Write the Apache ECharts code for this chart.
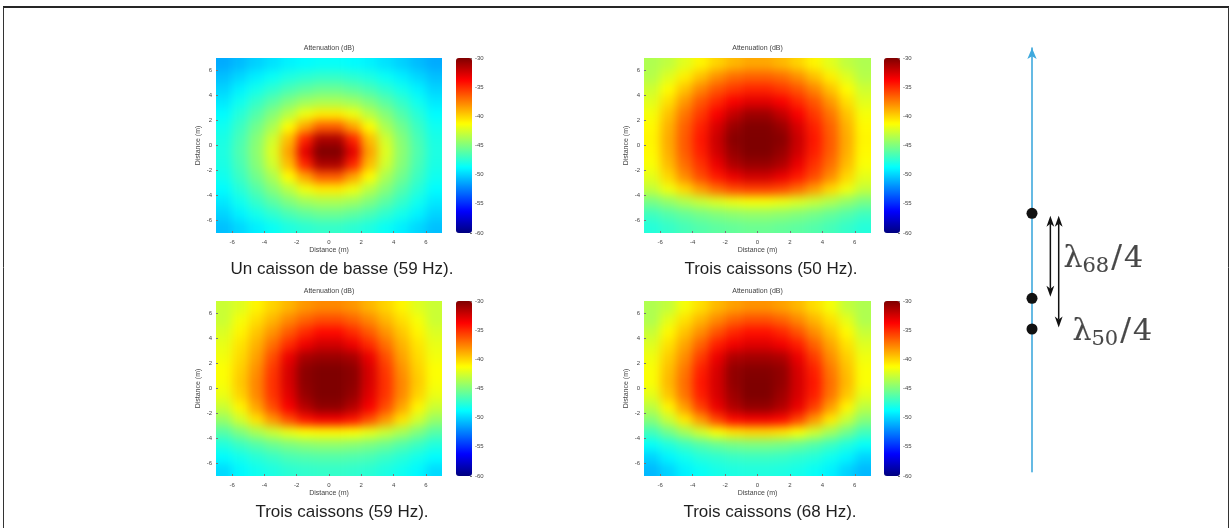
<!DOCTYPE html>
<html>
<head>
<meta charset="utf-8">
<title>Atténuation – caissons de basse</title>
<script src="https://cdn.jsdelivr.net/npm/echarts@6.0.0/dist/echarts.min.js"></script>
<style>
  html, body { margin: 0; padding: 0; background: #ffffff; }
  #stage { position: relative; width: 1232px; height: 528px; overflow: hidden; }
  .clip { position: absolute; overflow: hidden; }
  .heat { position: absolute; filter: blur(5px); }
  #main { position: absolute; left: 0; top: 0; width: 1232px; height: 528px; }
</style>
</head>
<body>
<div id="stage"><div id="main"></div></div>
<script>
// ---- cell centres of the measurement grid (m) ----
const cellX = [-6.5, -5.5, -4.5, -3.5, -2.5, -1.5, -0.5, 0.5, 1.5, 2.5, 3.5, 4.5, 5.5, 6.5];
const cellY = [6.5, 5.5, 4.5, 3.5, 2.5, 1.5, 0.5, -0.5, -1.5, -2.5, -3.5, -4.5, -5.5, -6.5];

// ---- axis ticks ----
const distanceTicks = [-6, -4, -2, 0, 2, 4, 6];
const attenuationRange = [-60, -30];

// ---- captions ----
const captions = [
  'Un caisson de basse (59 Hz).',
  'Trois caissons (50 Hz).',
  'Trois caissons (59 Hz).',
  'Trois caissons (68 Hz).'
];
const plotTitle = 'Attenuation (dB)';
const axisName = 'Distance (m)';

// ---- attenuation maps (dB), rows from y = 6.5 down to y = -6.5 ----
const attenOne59 = [
  [-51.2,-50.7,-50.1,-49.6,-49.1,-48.8,-48.6,-48.6,-48.8,-49.1,-49.6,-50.1,-50.7,-51.2],
  [-50.6,-49.9,-49.2,-48.5,-47.9,-47.5,-47.2,-47.2,-47.5,-47.9,-48.5,-49.2,-49.9,-50.6],
  [-50.0,-49.1,-48.2,-47.4,-46.6,-46.0,-45.6,-45.6,-46.0,-46.6,-47.4,-48.2,-49.1,-50.0],
  [-49.4,-48.3,-47.2,-46.1,-45.0,-44.1,-43.7,-43.7,-44.1,-45.0,-46.1,-47.2,-48.3,-49.4],
  [-48.8,-47.6,-46.3,-44.8,-43.3,-41.7,-40.7,-40.7,-41.7,-43.3,-44.8,-46.3,-47.6,-48.8],
  [-48.3,-47.0,-45.4,-43.7,-41.2,-38.6,-36.5,-36.5,-38.6,-41.2,-43.7,-45.4,-47.0,-48.3],
  [-48.0,-46.6,-44.8,-42.6,-39.3,-34.8,-31.3,-31.3,-34.8,-39.3,-42.6,-44.8,-46.6,-48.0],
  [-47.9,-46.4,-44.6,-42.2,-38.5,-33.0,-29.5,-29.5,-33.0,-38.5,-42.2,-44.6,-46.4,-47.9],
  [-48.0,-46.6,-44.8,-42.6,-39.3,-34.8,-31.3,-31.3,-34.8,-39.3,-42.6,-44.8,-46.6,-48.0],
  [-48.3,-47.0,-45.4,-43.7,-41.2,-38.6,-36.5,-36.5,-38.6,-41.2,-43.7,-45.4,-47.0,-48.3],
  [-48.8,-47.6,-46.3,-44.8,-43.3,-41.7,-40.7,-40.7,-41.7,-43.3,-44.8,-46.3,-47.6,-48.8],
  [-49.4,-48.3,-47.2,-46.1,-45.0,-44.1,-43.7,-43.7,-44.1,-45.0,-46.1,-47.2,-48.3,-49.4],
  [-50.0,-49.1,-48.2,-47.4,-46.6,-46.0,-45.6,-45.6,-46.0,-46.6,-47.4,-48.2,-49.1,-50.0],
  [-50.6,-49.9,-49.2,-48.5,-47.9,-47.5,-47.2,-47.2,-47.5,-47.9,-48.5,-49.2,-49.9,-50.6]
];

const attenThree50 = [
  [-43.6,-43.1,-42.1,-41.0,-40.0,-39.2,-38.7,-38.7,-39.2,-40.0,-41.0,-42.1,-43.1,-43.6],
  [-43.4,-42.2,-40.8,-39.4,-38.0,-37.0,-36.6,-36.6,-37.0,-38.0,-39.4,-40.8,-42.2,-43.4],
  [-42.7,-41.2,-39.5,-37.7,-36.3,-35.4,-34.8,-34.8,-35.4,-36.3,-37.7,-39.5,-41.2,-42.7],
  [-42.1,-40.3,-38.2,-36.3,-34.9,-33.6,-32.9,-32.9,-33.6,-34.9,-36.3,-38.2,-40.3,-42.1],
  [-41.5,-39.5,-37.2,-35.4,-33.6,-32.0,-30.9,-30.9,-32.0,-33.6,-35.4,-37.2,-39.5,-41.5],
  [-41.1,-39.0,-36.6,-34.7,-32.6,-30.8,-30.1,-30.1,-30.8,-32.6,-34.7,-36.6,-39.0,-41.1],
  [-41.0,-38.8,-36.4,-34.4,-32.2,-30.3,-29.8,-29.8,-30.3,-32.2,-34.4,-36.4,-38.8,-41.0],
  [-41.1,-38.9,-36.5,-34.6,-32.4,-30.7,-30.0,-30.0,-30.7,-32.4,-34.6,-36.5,-38.9,-41.1],
  [-41.4,-39.3,-37.0,-35.2,-33.2,-31.4,-30.7,-30.7,-31.4,-33.2,-35.2,-37.0,-39.3,-41.4],
  [-42.0,-40.1,-37.9,-36.0,-34.5,-33.2,-32.4,-32.4,-33.2,-34.5,-36.0,-37.9,-40.1,-42.0],
  [-43.0,-41.7,-40.1,-38.4,-37.0,-36.0,-35.6,-35.6,-36.0,-37.0,-38.4,-40.1,-41.7,-43.0],
  [-45.2,-44.4,-43.6,-42.9,-42.3,-41.8,-41.5,-41.5,-41.8,-42.3,-42.9,-43.6,-44.4,-45.2],
  [-46.9,-46.3,-45.8,-45.3,-44.9,-44.6,-44.4,-44.4,-44.6,-44.9,-45.3,-45.8,-46.3,-46.9],
  [-47.7,-47.2,-46.7,-46.3,-46.0,-45.8,-45.6,-45.6,-45.8,-46.0,-46.3,-46.7,-47.2,-47.7]
];

const attenThree59 = [
  [-42.8,-42.2,-41.0,-40.0,-39.1,-38.2,-37.8,-37.8,-38.2,-39.1,-40.0,-41.0,-42.2,-42.8],
  [-42.8,-41.5,-40.3,-39.1,-37.8,-36.7,-36.0,-36.0,-36.7,-37.8,-39.1,-40.3,-41.5,-42.8],
  [-42.3,-41.0,-39.6,-38.1,-36.4,-35.0,-34.0,-34.0,-35.0,-36.4,-38.1,-39.6,-41.0,-42.3],
  [-41.9,-40.5,-39.0,-37.0,-35.0,-33.3,-32.4,-32.4,-33.3,-35.0,-37.0,-39.0,-40.5,-41.9],
  [-41.6,-40.2,-38.5,-36.0,-33.2,-31.2,-30.8,-30.8,-31.2,-33.2,-36.0,-38.5,-40.2,-41.6],
  [-41.3,-39.9,-38.0,-35.4,-32.6,-30.4,-30.0,-30.0,-30.4,-32.6,-35.4,-38.0,-39.9,-41.3],
  [-41.4,-39.7,-37.7,-35.2,-32.6,-30.4,-29.7,-29.7,-30.4,-32.6,-35.2,-37.7,-39.7,-41.4],
  [-41.8,-40.0,-37.8,-35.3,-32.9,-30.7,-29.8,-29.8,-30.7,-32.9,-35.3,-37.8,-40.0,-41.8],
  [-42.8,-41.0,-38.6,-36.0,-33.6,-31.6,-30.5,-30.5,-31.6,-33.6,-36.0,-38.6,-41.0,-42.8],
  [-44.3,-42.6,-40.4,-38.2,-36.1,-34.3,-33.5,-33.5,-34.3,-36.1,-38.2,-40.4,-42.6,-44.3],
  [-46.2,-45.0,-43.8,-42.8,-41.9,-41.3,-41.1,-41.1,-41.3,-41.9,-42.8,-43.8,-45.0,-46.2],
  [-47.8,-47.0,-46.3,-45.6,-45.1,-44.7,-44.5,-44.5,-44.7,-45.1,-45.6,-46.3,-47.0,-47.8],
  [-48.8,-48.2,-47.6,-47.1,-46.6,-46.4,-46.3,-46.3,-46.4,-46.6,-47.1,-47.6,-48.2,-48.8],
  [-49.8,-48.9,-48.3,-47.9,-47.5,-47.3,-47.2,-47.2,-47.3,-47.5,-47.9,-48.3,-48.9,-49.8]
];

const attenThree68 = [
  [-43.6,-43.0,-41.5,-40.3,-39.2,-38.5,-38.1,-38.1,-38.5,-39.2,-40.3,-41.5,-43.0,-43.6],
  [-43.6,-42.0,-40.4,-39.1,-37.8,-36.7,-36.1,-36.1,-36.7,-37.8,-39.1,-40.4,-42.0,-43.6],
  [-42.9,-41.1,-39.5,-37.9,-36.2,-34.9,-34.2,-34.2,-34.9,-36.2,-37.9,-39.5,-41.1,-42.9],
  [-42.2,-40.4,-38.6,-36.6,-34.6,-33.4,-32.8,-32.8,-33.4,-34.6,-36.6,-38.6,-40.4,-42.2],
  [-41.7,-39.8,-37.9,-35.5,-33.2,-31.4,-31.1,-31.1,-31.4,-33.2,-35.5,-37.9,-39.8,-41.7],
  [-41.4,-39.4,-37.3,-34.7,-32.6,-30.6,-30.2,-30.2,-30.6,-32.6,-34.7,-37.3,-39.4,-41.4],
  [-41.4,-39.2,-37.0,-34.4,-32.5,-30.6,-29.8,-29.8,-30.6,-32.5,-34.4,-37.0,-39.2,-41.4],
  [-42.0,-39.6,-37.2,-34.6,-32.6,-30.9,-29.8,-29.8,-30.9,-32.6,-34.6,-37.2,-39.6,-42.0],
  [-43.2,-41.0,-38.4,-35.6,-33.2,-31.5,-30.6,-30.6,-31.5,-33.2,-35.6,-38.4,-41.0,-43.2],
  [-44.8,-42.9,-40.6,-38.3,-35.8,-34.0,-33.5,-33.5,-34.0,-35.8,-38.3,-40.6,-42.9,-44.8],
  [-46.8,-45.4,-44.0,-42.6,-41.4,-40.5,-40.1,-40.1,-40.5,-41.4,-42.6,-44.0,-45.4,-46.8],
  [-48.6,-47.8,-47.0,-46.3,-45.7,-45.3,-45.1,-45.1,-45.3,-45.7,-46.3,-47.0,-47.8,-48.6],
  [-50.0,-49.0,-48.3,-47.7,-47.4,-47.1,-47.0,-47.0,-47.1,-47.4,-47.7,-48.3,-49.0,-50.0],
  [-50.8,-50.0,-49.1,-48.5,-48.1,-47.9,-47.8,-47.8,-47.9,-48.1,-48.5,-49.1,-50.0,-50.8]
];

// ---- subwoofer layout (m along the wall) and spacing labels ----
const subwooferPositions = [0, -1.26, -1.715];
const spacingLabels = [
  { sub: '68', span: [0, 1] },
  { sub: '50', span: [0, 2] }
];

// jet colour scale
const jet = ['#00007f', '#0000ff', '#007fff', '#00ffff', '#7fff7f', '#ffff00', '#ff7f00', '#ff0000', '#7f0000'];

const SMALL_FONT = 'Liberation Sans';
const panels = [
  { data: attenOne59,   caption: captions[0], left: 216, top: 58,  width: 226, height: 175, cbLeft: 456, capX: 342, capY: 269 },
  { data: attenThree50, caption: captions[1], left: 644, top: 58,  width: 227, height: 175, cbLeft: 884, capX: 771, capY: 269 },
  { data: attenThree59, caption: captions[2], left: 216, top: 301, width: 226, height: 175, cbLeft: 456, capX: 342, capY: 512 },
  { data: attenThree68, caption: captions[3], left: 644, top: 301, width: 227, height: 175, cbLeft: 884, capX: 770, capY: 512 }
];

const stage = document.getElementById('stage');
const mainDom = document.getElementById('main');

// ---- colour maps: one softened canvas per panel, clipped to the plot area ----
const MARGIN = 24;
panels.forEach(function (p) {
  const clip = document.createElement('div');
  clip.className = 'clip';
  clip.style.left = p.left + 'px';
  clip.style.top = p.top + 'px';
  clip.style.width = p.width + 'px';
  clip.style.height = p.height + 'px';
  const inner = document.createElement('div');
  inner.className = 'heat';
  inner.style.left = -MARGIN + 'px';
  inner.style.top = -MARGIN + 'px';
  inner.style.width = (p.width + 2 * MARGIN) + 'px';
  inner.style.height = (p.height + 2 * MARGIN) + 'px';
  clip.appendChild(inner);
  stage.insertBefore(clip, mainDom);

  const cells = [];
  p.data.forEach(function (row, i) {
    row.forEach(function (v, j) { cells.push([cellX[j], cellY[i], v, j, i]); });
  });
  const nX = cellX.length, nY = cellY.length;

  const chart = echarts.init(inner, null, { renderer: 'canvas' });
  chart.setOption({
    animation: false,
    grid: { left: MARGIN, top: MARGIN, width: p.width, height: p.height },
    xAxis: { type: 'value', min: -7, max: 7, show: false },
    yAxis: { type: 'value', min: -7, max: 7, show: false },
    visualMap: { show: false, min: attenuationRange[0], max: attenuationRange[1], dimension: 2, inRange: { color: jet } },
    series: [{
      type: 'custom',
      clip: false,
      data: cells,
      renderItem: function (params, api) {
        const x = api.value(0), y = api.value(1);
        const j = api.value(3), i = api.value(4);
        const a = api.coord([x - 0.5, y + 0.5]);
        const b = api.coord([x + 0.5, y - 0.5]);
        let x0 = a[0], y0 = a[1], x1 = b[0], y1 = b[1];
        if (j === 0) x0 -= MARGIN;
        if (j === nX - 1) x1 += MARGIN;
        if (i === 0) y0 -= MARGIN;
        if (i === nY - 1) y1 += MARGIN;
        return {
          type: 'rect',
          shape: { x: x0, y: y0, width: x1 - x0 + 0.6, height: y1 - y0 + 0.6 },
          style: { fill: api.visual('color') }
        };
      }
    }]
  });
});

// ---- axes, colour bars, captions and the subwoofer sketch ----
const grid = [], xAxis = [], yAxis = [], visualMap = [], graphic = [];
const smallText = { fontSize: 6, color: '#444', fontFamily: SMALL_FONT };

panels.forEach(function (p, k) {
  const g = 2 * k;
  grid.push({ left: p.left, top: p.top, width: p.width, height: p.height });
  grid.push({ left: p.cbLeft, top: p.top, width: 16, height: p.height });

  xAxis.push({
    gridIndex: g, type: 'value', min: -7, max: 7, position: 'bottom',
    name: axisName, nameLocation: 'middle', nameGap: 14,
    nameTextStyle: { fontSize: 7, color: '#444', fontFamily: SMALL_FONT },
    axisLine: { show: false, onZero: false }, splitLine: { show: false },
    axisTick: { show: true, inside: true, length: 2, customValues: distanceTicks, lineStyle: { color: '#777' } },
    axisLabel: Object.assign({ customValues: distanceTicks, margin: 6 }, smallText)
  });
  yAxis.push({
    gridIndex: g, type: 'value', min: -7, max: 7, position: 'left',
    name: axisName, nameLocation: 'middle', nameGap: 14,
    nameTextStyle: { fontSize: 7, color: '#444', fontFamily: SMALL_FONT },
    axisLine: { show: false, onZero: false }, splitLine: { show: false },
    axisTick: { show: true, inside: true, length: 2, customValues: distanceTicks, lineStyle: { color: '#777' } },
    axisLabel: Object.assign({ customValues: distanceTicks, margin: 4 }, smallText)
  });
  xAxis.push({ gridIndex: g + 1, type: 'value', min: 0, max: 1, show: false });
  yAxis.push({
    gridIndex: g + 1, type: 'value', min: attenuationRange[0], max: attenuationRange[1], interval: 5,
    position: 'right',
    axisLine: { show: false, onZero: false }, splitLine: { show: false },
    axisTick: { show: true, inside: true, length: 2, lineStyle: { color: '#777' } },
    axisLabel: Object.assign({ margin: 3 }, smallText)
  });

  visualMap.push({
    type: 'continuous', seriesIndex: [],
    min: attenuationRange[0], max: attenuationRange[1],
    calculable: false, hoverLink: false, realtime: false,
    left: p.cbLeft, top: p.top, padding: 0,
    itemWidth: 16, itemHeight: p.height,
    inRange: { color: jet }
  });

  graphic.push({
    type: 'text', x: p.left + p.width / 2, y: p.top - 9.5,
    style: { text: plotTitle, font: '7px "' + SMALL_FONT + '"', fill: '#444', textAlign: 'center', textVerticalAlign: 'middle' }
  });
  graphic.push({
    type: 'text', x: p.capX, y: p.capY,
    style: { text: p.caption, font: '17px "Liberation Sans"', fill: '#1f1f1f', textAlign: 'center', textVerticalAlign: 'middle' }
  });
});

// frame round the figure
graphic.push({ type: 'line', shape: { x1: 3, y1: 7, x2: 1229, y2: 7 }, style: { stroke: '#1a1a1a', lineWidth: 2 } });
graphic.push({ type: 'polyline', shape: { points: [[3.5, 528], [3.5, 7], [1228.5, 7], [1228.5, 528]] }, style: { stroke: '#333', lineWidth: 1, fill: null } });

// sketch of the subwoofer line
const sketchGrid = grid.length;
grid.push({ left: 1032, top: 48, width: 120, height: 423.7 });
xAxis.push({ gridIndex: sketchGrid, type: 'value', min: 0, max: 1, show: false });
yAxis.push({
  gridIndex: sketchGrid, type: 'value', min: -3.83, max: 2.45, position: 'left',
  axisLine: { show: true, onZero: false, symbol: ['none', 'arrow'], symbolSize: [7, 11], lineStyle: { color: '#3fa9dd', width: 1.6 } },
  axisTick: { show: false }, axisLabel: { show: false }, splitLine: { show: false }
});

const arrowX = [0.153, 0.2225];
const labelAnchor = [[0.258, 0.5], [0.333, 1]];

// double-headed dimension arrow between two subwoofer positions
function renderSpan(params, api) {
  const x = api.value(0);
  const a = api.coord([x, api.value(1)]);
  const b = api.coord([x, api.value(2)]);
  const px = a[0];
  const top = Math.min(a[1], b[1]) + 2.5, bot = Math.max(a[1], b[1]) - 1.5;
  const L = 11, W = 3.9, N = 8;
  const ink = { fill: '#111' };
  return {
    type: 'group',
    children: [
      { type: 'line', shape: { x1: px, y1: top + N, x2: px, y2: bot - N }, style: { stroke: '#111', lineWidth: 1.5 } },
      { type: 'polygon', shape: { points: [[px, top], [px + W, top + L], [px, top + N], [px - W, top + L]] }, style: ink },
      { type: 'polygon', shape: { points: [[px, bot], [px + W, bot - L], [px, bot - N], [px - W, bot - L]] }, style: ink }
    ]
  };
}

const ink = '#1a1a1a';
const series = [
  {
    type: 'scatter', xAxisIndex: sketchGrid, yAxisIndex: sketchGrid,
    data: subwooferPositions.map(function (v) { return [0, v]; }),
    symbolSize: 11, itemStyle: { color: '#111', opacity: 1 }, z: 5, silent: true
  },
  {
    type: 'custom', xAxisIndex: sketchGrid, yAxisIndex: sketchGrid, silent: true, clip: false,
    data: spacingLabels.map(function (s, k) {
      return [arrowX[k], subwooferPositions[s.span[0]], subwooferPositions[s.span[1]]];
    }),
    renderItem: renderSpan
  },
  {
    type: 'scatter', xAxisIndex: sketchGrid, yAxisIndex: sketchGrid,
    symbolSize: 1, itemStyle: { color: 'rgba(0,0,0,0)' }, silent: true,
    data: spacingLabels.map(function (s, k) {
      const a = subwooferPositions[s.span[0]], b = subwooferPositions[s.span[1]];
      const y = a + (b - a) * labelAnchor[k][1];
      return { value: [labelAnchor[k][0], y], sub: s.sub };
    }),
    label: {
      show: true, position: 'right', distance: 0, offset: [0, 3],
      formatter: function (p) { return '{l|λ}{s|' + p.data.sub + '}{sl|/}{m|4}'; },
      rich: {
        l: { fontFamily: 'DejaVu Serif', fontSize: 30, color: ink, textBorderColor: ink, textBorderWidth: 0.15 },
        s: { fontFamily: 'DejaVu Serif', fontSize: 21, color: ink, textBorderColor: ink, textBorderWidth: 0.1, padding: [15, 0, 0, 0] },
        sl: { fontFamily: 'DejaVu Serif', fontSize: 32, color: ink, textBorderColor: ink, textBorderWidth: 0.15, padding: [0, 2, 0, 2] },
        m: { fontFamily: 'DejaVu Serif', fontSize: 30, color: ink, textBorderColor: ink, textBorderWidth: 0.15 }
      }
    }
  }
];

const main = echarts.init(mainDom, null, { renderer: 'canvas' });
main.setOption({
  animation: false,
  backgroundColor: 'transparent',
  grid: grid, xAxis: xAxis, yAxis: yAxis,
  visualMap: visualMap,
  graphic: { elements: graphic },
  series: series
});
</script>
</body>
</html>
